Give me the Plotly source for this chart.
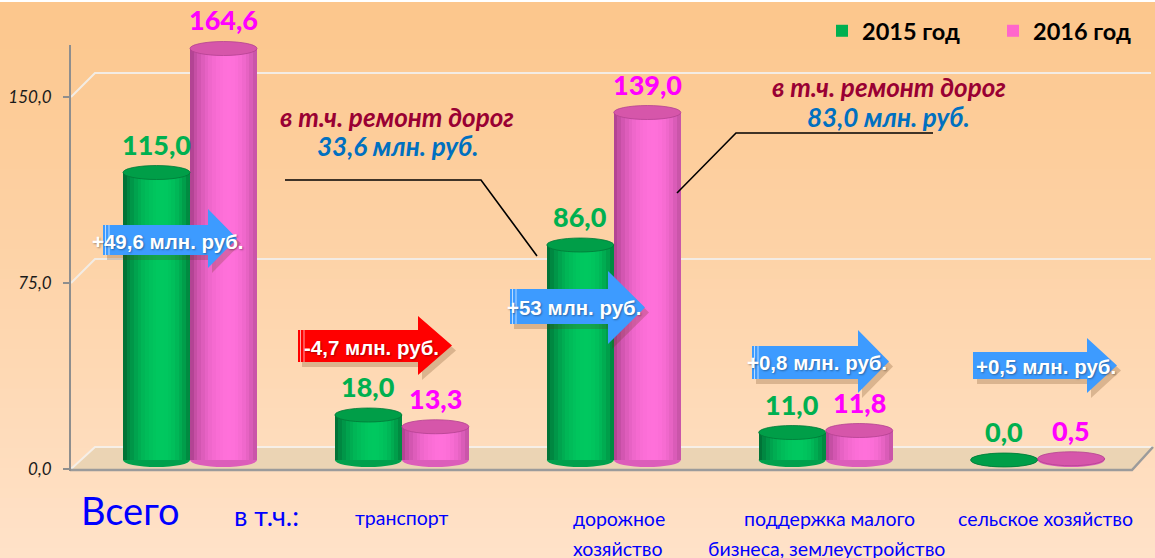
import plotly.graph_objects as go

# ---------------- data ----------------
categories = ["Всего", "транспорт", "дорожное хозяйство",
              "поддержка малого бизнеса, землеустройство", "сельское хозяйство"]
values_2015 = [115.0, 18.0, 86.0, 11.0, 0.0]
values_2016 = [164.6, 13.3, 139.0, 11.8, 0.5]
series_names = ["2015 год", "2016 год"]
change_labels = ["+49,6 млн. руб.", "-4,7 млн. руб.", "+53 млн. руб.",
                 "+0,8 млн. руб.", "+0,5 млн. руб."]
tick_values = [0, 75, 150]
tick_labels = ["0,0", "75,0", "150,0"]
road_note_title = "в т.ч. ремонт дорог"
road_note_2015 = "33,6 млн. руб."
road_note_2016 = "83,0 млн. руб."

# ---------------- geometry helpers ----------------
W, H = 1155, 558
L, R, T, B = 70, 10, 20, 89
PW, PH = W - L - R, H - T - B


def px(x):
    return (x - L) / PW


def py(y):
    return (H - B - y) / PH


CAT0, STEP = 190.0, 211.9
xr = [(L - CAT0) / STEP, (W - R - CAT0) / STEP]
Y1_PX = 2.48          # px per unit on front (tick) axis
Y2_PX = 2.5           # px per unit for the cylinders
Y2_OFF = 9            # cylinder base sits 9px above the front edge
y1r = [0, PH / Y1_PX]
y2r = [-Y2_OFF / Y2_PX, (PH - Y2_OFF) / Y2_PX]
BW = 67 / STEP
E = 7 / Y2_PX          # ellipse half height in y2 units

FONT = "Lato"
ARIAL = "Liberation Sans"

fig = go.Figure()

# invisible trace so the tick axis subplot exists
fig.add_trace(go.Scatter(x=[xr[0]] * len(tick_values), y=tick_values, mode="markers",
                         marker=dict(opacity=0), hoverinfo="skip", showlegend=False))

styles = [
    dict(main="#00B050", dark_l=(0, 100, 48), dark_r=(0, 125, 58), light=(0, 200, 95),
         top="rgb(0,158,72)", topline="rgb(0,120,55)", label="#00B050"),
    dict(main="#FF66CC", dark_l=(165, 60, 135), dark_r=(190, 78, 158), light=(255, 112, 218),
         top="rgb(214,86,170)", topline="rgb(180,65,145)", label="#FF00FF"),
]
series = [values_2015, values_2016]
offsets = [-BW / 2, BW / 2]


def mix(a, b, f):
    return tuple(int(round(a[k] + (b[k] - a[k]) * f)) for k in range(3))


N = 18
for s, vals in enumerate(series):
    st = styles[s]
    xs = [i + offsets[s] for i in range(len(vals))]
    fig.add_trace(go.Bar(x=xs, y=vals, width=BW, yaxis="y2", name=series_names[s],
                         marker=dict(color=st["main"], line=dict(width=0)),
                         hoverinfo="skip", showlegend=True))
    for k in range(N):
        u = (k + 0.5) / N
        peak = 0.6
        d = (u - peak) / peak if u < peak else (u - peak) / (1 - peak)
        f = max(0.0, 1 - d * d) ** 0.8
        dark = mix(st["dark_l"], st["dark_r"], u)
        c = mix(dark, st["light"], f)
        sx = [x - BW / 2 + (k + 0.5) * BW / N for x in xs]
        fig.add_trace(go.Bar(x=sx, y=vals, width=BW / N * 1.08, yaxis="y2",
                             marker=dict(color="rgb(%d,%d,%d)" % c, line=dict(width=0)),
                             hoverinfo="skip", showlegend=False))

shapes = []
# background gradient
top_c, bot_c = (252, 198, 140), (255, 226, 200)
nstrip = 56
for k in range(nstrip):
    y0 = k * H / nstrip
    y1 = (k + 1) * H / nstrip + 1
    c = mix(top_c, bot_c, k / (nstrip - 1))
    shapes.append(dict(type="rect", xref="paper", yref="paper", layer="below",
                       x0=px(0), x1=px(W), y0=py(y1), y1=py(y0),
                       fillcolor="rgb(%d,%d,%d)" % c, line=dict(width=0)))
# thin white band at very top
shapes.append(dict(type="rect", xref="paper", yref="paper", layer="below",
                   x0=px(0), x1=px(W), y0=py(2), y1=py(0),
                   fillcolor="white", line=dict(width=0)))

# back-wall gridlines
DX, DY = 25, 24
for t in tick_values[1:]:
    yp = H - B - t * Y1_PX
    path = "M %f,%f L %f,%f L %f,%f" % (px(L + 1), py(yp), px(L + DX), py(yp - DY),
                                         px(W - 4), py(yp - DY))
    shapes.append(dict(type="path", xref="paper", yref="paper", layer="below", path=path,
                       line=dict(color="#F3ECE4", width=2)))

# floor
fy = H - B
floor = "M %f,%f L %f,%f L %f,%f L %f,%f Z" % (px(L + 1), py(fy), px(L + DX), py(fy - 22),
                                               px(1153), py(fy - 22), px(1132), py(fy))
shapes.append(dict(type="path", xref="paper", yref="paper", layer="below", path=floor,
                   fillcolor="#EBD4B4", line=dict(width=0)))
shapes.append(dict(type="path", xref="paper", yref="paper", layer="below",
                   path="M %f,%f L %f,%f L %f,%f" % (px(L + 1), py(fy), px(L + DX), py(fy - 22),
                                                     px(1153), py(fy - 22)),
                   line=dict(color="#F6EFE7", width=2)))
shapes.append(dict(type="path", xref="paper", yref="paper", layer="below",
                   path="M %f,%f L %f,%f L %f,%f" % (px(L), py(fy + 1), px(1132), py(fy + 1),
                                                     px(1153), py(fy - 22)),
                   line=dict(color="#9B9B9B", width=2.5)))
# y axis line
shapes.append(dict(type="line", xref="paper", yref="paper", layer="below",
                   x0=px(L), x1=px(L), y0=py(45), y1=py(fy + 2),
                   line=dict(color="#8E8E8E", width=2)))

# cylinder bottoms (below) and tops (above)
for s, vals in enumerate(series):
    st = styles[s]
    for i, v in enumerate(vals):
        x0 = i + offsets[s] - BW / 2
        x1 = i + offsets[s] + BW / 2
        mid = mix(mix(st["dark_l"], st["dark_r"], 0.5), st["light"], 0.55)
        shapes.append(dict(type="circle", xref="x", yref="y2", layer="below",
                           x0=x0, x1=x1, y0=-E, y1=E,
                           fillcolor="rgb(%d,%d,%d)" % mid, line=dict(width=0)))
        shapes.append(dict(type="circle", xref="x", yref="y2", layer="above",
                           x0=x0, x1=x1, y0=v - E, y1=v + E,
                           fillcolor=st["top"], line=dict(color=st["topline"], width=0.8)))

# block arrows
BLUE, RED = "#3D9BFF", "#FF0000"
arrows = [
    dict(left=103, right=208, bt=225, bb=255, ht=209, hb=268, tip=237, color=BLUE, tx=168, ty=241, stripes=True),
    dict(left=298, right=418, bt=330, bb=362, ht=316, hb=375, tip=452, color=RED, tx=371, ty=347, stripes=True),
    dict(left=510, right=608, bt=289, bb=324, ht=271, hb=344, tip=645, color=BLUE, tx=574, ty=308, stripes=True),
    dict(left=752, right=858, bt=346, bb=379, ht=330, hb=393, tip=889, color=BLUE, tx=817, ty=362, stripes=True),
    dict(left=973, right=1087, bt=352, bb=379, ht=338, hb=393, tip=1117, color=BLUE, tx=1046, ty=366, stripes=False),
]


def arrow_path(a, dx=0, dy=0):
    ty = (a["ht"] + a["hb"]) / 2
    pts = [(a["left"], a["bt"]), (a["right"], a["bt"]), (a["right"], a["ht"]),
           (a["tip"], ty), (a["right"], a["hb"]), (a["right"], a["bb"]), (a["left"], a["bb"])]
    return "M " + " L ".join("%f,%f" % (px(x + dx), py(y + dy)) for x, y in pts) + " Z"


annotations = []
for a, lab in zip(arrows, change_labels):
    shapes.append(dict(type="path", xref="paper", yref="paper", layer="above",
                       path=arrow_path(a, 4, 5), fillcolor="rgba(90,50,10,0.22)", line=dict(width=0)))
    shapes.append(dict(type="path", xref="paper", yref="paper", layer="above",
                       path=arrow_path(a), fillcolor=a["color"], line=dict(width=0)))
    if a["stripes"]:
        for off in (2.5, 6):
            shapes.append(dict(type="line", xref="paper", yref="paper", layer="above",
                               x0=px(a["left"] + off), x1=px(a["left"] + off),
                               y0=py(a["bt"]), y1=py(a["bb"]),
                               line=dict(color="rgba(255,255,255,0.65)", width=1)))
    annotations.append(dict(xref="paper", yref="paper", x=px(a["tx"]), y=py(a["ty"]),
                            text=lab, showarrow=False, xanchor="center", yanchor="middle",
                            font=dict(family=ARIAL, size=20.5, color="white", weight="bold",
                                      shadow="1px 1px 2px rgba(0,0,0,0.35)")))

# callout lines
shapes.append(dict(type="path", xref="paper", yref="paper", layer="above",
                   path="M %f,%f L %f,%f L %f,%f" % (px(285), py(180), px(481), py(180), px(537), py(256)),
                   line=dict(color="black", width=1.6)))
shapes.append(dict(type="path", xref="paper", yref="paper", layer="above",
                   path="M %f,%f L %f,%f L %f,%f" % (px(677), py(193), px(736), py(133), px(933), py(133)),
                   line=dict(color="black", width=1.6)))

# callout texts
for tx, ty, txt, col in [(397, 117, road_note_title, "#990033"), (397, 146, road_note_2015, "#0070C0"),
                         (889, 87, road_note_title, "#990033"), (888, 117, road_note_2016, "#0070C0")]:
    annotations.append(dict(xref="paper", yref="paper", x=px(tx), y=py(ty), text=txt,
                            showarrow=False, xanchor="center", yanchor="middle",
                            font=dict(family=FONT, size=26, color=col, weight="bold", style="italic")))

# value labels
for s, vals in enumerate(series):
    for i, v in enumerate(vals):
        annotations.append(dict(xref="x", yref="y2", x=i + offsets[s], y=v, yshift=10,
                                text=("%.1f" % v).replace(".", ","), showarrow=False,
                                xanchor="center", yanchor="bottom",
                                font=dict(family=FONT, size=27, color=styles[s]["label"], weight=900)))

# category labels
BLUE_TXT = "#0000FF"
cat_lines = [
    ("Всего", 130, 510, 38),
    ("в т.ч.:", 266, 515, 27),
    ("транспорт", 401, 517, 19.5),
    ("дорожное", 619, 518, 19.5),
    ("хозяйство", 618, 548, 19.5),
    ("поддержка малого", 829, 518, 19.5),
    ("бизнеса, землеустройство", 826, 548, 19.5),
    ("сельское хозяйство", 1045, 518, 19.5),
]
for txt, tx, ty, sz in cat_lines:
    annotations.append(dict(xref="paper", yref="paper", x=px(tx), y=py(ty), text=txt,
                            showarrow=False, xanchor="center", yanchor="middle",
                            font=dict(family=FONT, size=sz, color=BLUE_TXT)))

fig.update_layout(
    width=W, height=H, autosize=False,
    margin=dict(l=L, r=R, t=T, b=B, autoexpand=False),
    paper_bgcolor="rgb(255,226,200)", plot_bgcolor="rgba(0,0,0,0)",
    barmode="overlay", bargap=0,
    xaxis=dict(range=xr, showticklabels=False, showgrid=False, zeroline=False,
               showline=False, ticks="", fixedrange=True),
    yaxis=dict(range=y1r, tickvals=tick_values, ticktext=tick_labels, ticks="outside",
               ticklen=6, tickwidth=2, tickcolor="#8E8E8E", ticklabelstandoff=8,
               tickfont=dict(family=FONT, size=17, color="#1a1a1a", style="italic"),
               showgrid=False, zeroline=False, showline=False, fixedrange=True),
    yaxis2=dict(range=y2r, overlaying="y", visible=False, fixedrange=True),
    legend=dict(orientation="h", x=px(822), y=py(9), xanchor="left", yanchor="top",
                bgcolor="rgba(0,0,0,0)", entrywidth=126, entrywidthmode="pixels",
                font=dict(family=FONT, size=23.5, color="black", weight="bold")),
    shapes=shapes, annotations=annotations,
    showlegend=True,
)

fig.write_html("out.html", config={"displayModeBar": False},
               post_script="document.body.style.margin='0';document.body.style.overflow='hidden';")
